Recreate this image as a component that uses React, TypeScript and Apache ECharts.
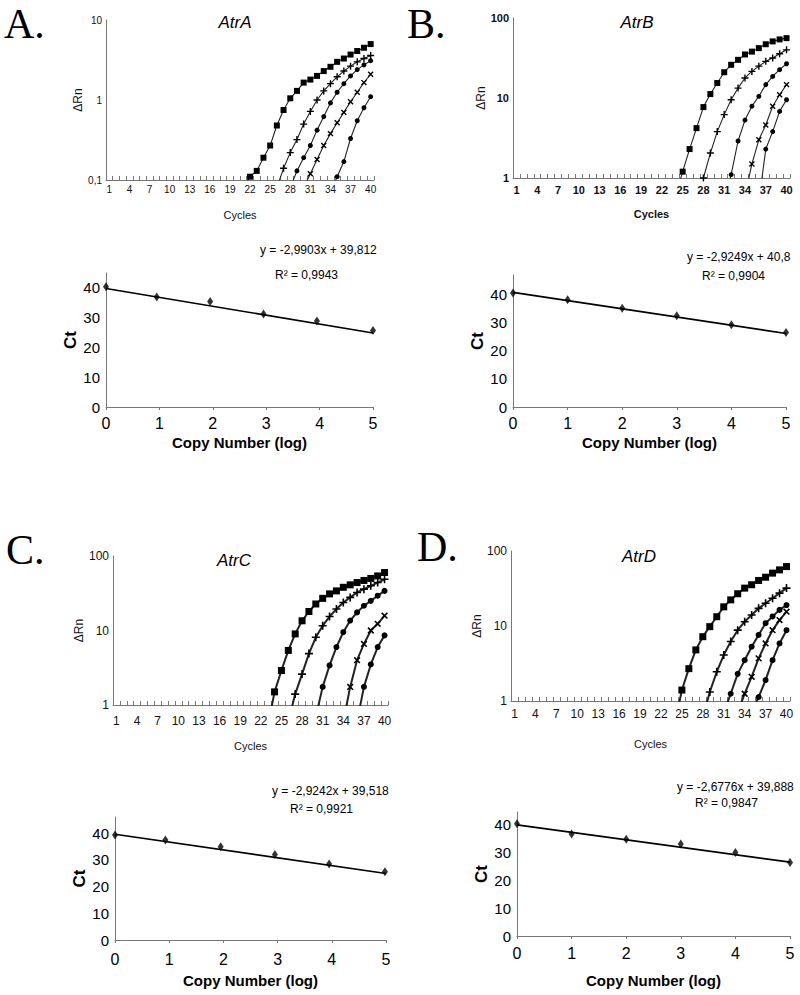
import React, { useEffect, useRef } from 'react';
import * as echarts from 'echarts';

const FONT = "'Liberation Sans', Arial, sans-serif";
const SERIF = "'Liberation Serif', 'Times New Roman', serif";

const CYCLES = ['1','2','3','4','5','6','7','8','9','10','11','12','13','14','15','16','17','18','19','20',
  '21','22','23','24','25','26','27','28','29','30','31','32','33','34','35','36','37','38','39','40'];

// ---- Amplification plots: [first cycle, ΔRn values from that cycle to 40] ----
const atrA_sq = [0.08, 0.11, 0.13, 0.19, 0.27, 0.48, 0.75, 1.05, 1.3, 1.65, 1.8, 2.0, 2.3, 2.6, 3.0, 3.3, 3.7, 4.1, 4.5, 5.0];
const atrA_p1 = [0.08, 0.14, 0.22, 0.32, 0.5, 0.72, 1.0, 1.3, 1.6, 1.95, 2.3, 2.65, 3.0, 3.3, 3.6];
const atrA_c1 = [0.08, 0.13, 0.19, 0.27, 0.42, 0.62, 0.92, 1.25, 1.6, 2.0, 2.4, 2.75, 3.1];
const atrA_x1 = [0.08, 0.12, 0.18, 0.27, 0.38, 0.52, 0.7, 0.95, 1.25, 1.65, 2.1];
const atrA_c2 = [0.07, 0.11, 0.17, 0.33, 0.55, 0.8, 1.1];
const atrA_starts = [21, 26, 28, 30, 34];

const atrB_sq = [0.6, 1.2, 2.3, 4.2, 7.7, 11.2, 15.4, 21, 26, 30, 35, 38, 42, 47, 51, 54, 56];
const atrB_p1 = [1.0, 2.05, 3.8, 6.2, 9.5, 13.3, 17.8, 21.5, 25, 28.7, 31.6, 35.8, 40];
const atrB_c1 = [0.5, 1.1, 2.9, 5.3, 7.9, 10.5, 14.7, 18.6, 22.6, 26.8];
const atrB_x1 = [0.6, 1.5, 3.0, 4.6, 7.9, 11, 14.7];
const atrB_c2 = [0.5, 2.3, 3.8, 6.8, 9.5];
const atrB_starts = [24, 28, 31, 34, 36];

const atrC_sq = [0.5, 1.5, 2.9, 5.4, 9, 13.5, 18, 22.7, 27, 31, 34, 38, 41, 44, 47, 50, 54, 60];
const atrC_p1 = [0.6, 1.4, 2.6, 4.9, 8.1, 11.6, 15.4, 19.4, 23.8, 27.8, 32.4, 35.9, 39.8, 44, 48.7];
const atrC_c1 = [0.7, 1.75, 3.4, 6, 9.5, 13.6, 17.5, 21.5, 25, 29.3, 34];
const atrC_x1 = [0.6, 1.75, 4, 6.6, 10, 12.3, 15.8];
const atrC_c2 = [0.6, 1.75, 3.5, 6, 8.6];
const atrC_starts = [23, 26, 30, 34, 36];

const atrD_sq = [0.5, 1.4, 2.7, 4.8, 7.2, 9.8, 13.3, 18, 22.3, 26.9, 32, 35.5, 40.5, 44.7, 50.7, 56, 62];
const atrD_p1 = [0.6, 1.32, 2.45, 4.1, 6.2, 8.8, 11.4, 14, 17.2, 20.1, 23.4, 27.4, 32];
const atrD_c1 = [0.7, 1.25, 2.3, 3.5, 5.3, 7.6, 10.9, 13.4, 16.4, 19];
const atrD_x1 = [0.7, 1.25, 2.1, 3.7, 5.85, 8.8, 12, 15.5];
const atrD_c2 = [0.7, 1.13, 1.9, 3.5, 5.85, 8.8];
const atrD_starts = [24, 28, 31, 33, 35];

// ---- Standard curves: log copy number vs Ct ----
const ctA_x = [0, 0.95, 1.95, 2.95, 3.95, 5];
const ctA_y = [40.4, 36.9, 35.4, 31.2, 28.9, 25.7];
const ctB_x = [0, 1, 2, 3, 4, 5];
const ctB_y = [40.6, 38.2, 35.2, 32.5, 29.3, 26.5];
const ctC_x = [0, 0.93, 1.95, 2.95, 3.95, 4.98];
const ctC_y = [39.3, 37.4, 34.9, 32.0, 28.4, 25.5];
const ctD_x = [0, 1, 2, 3, 4, 5];
const ctD_y = [40.3, 36.6, 34.7, 33.0, 30.0, 26.4];

// trend lines (slope, intercept) as printed
const fitSlope = [-2.9903, -2.9249, -2.9242, -2.6776];
const fitIntercept = [39.812, 40.8, 39.518, 39.888];
const eqTexts = ['y = -2,9903x + 39,812', 'y = -2,9249x + 40,8', 'y = -2,9242x + 39,518', 'y = -2,6776x + 39,888'];
const r2Texts = ['R\u00B2 = 0,9943', 'R\u00B2 = 0,9904', 'R\u00B2 = 0,9921', 'R\u00B2 = 0,9847'];
const genes = ['AtrA', 'AtrB', 'AtrC', 'AtrD'];
const letters = ['A.', 'B.', 'C.', 'D.'];

const PLUS = 'path://M4,0H6V10H4ZM0,4H10V6H0Z';

function toCycleSeries(start: number, vals: number[]) {
  const out: (number | null)[] = CYCLES.map(() => null);
  vals.forEach((v, i) => { out[start - 1 + i] = v; });
  return out;
}

export default function App() {
  const ref = useRef<HTMLDivElement>(null);
  useEffect(() => {
    if (!ref.current) return;
    const chart = echarts.init(ref.current, undefined, { renderer: 'svg' });

    const ampSets = [
      { vals: [atrA_sq, atrA_p1, atrA_c1, atrA_x1, atrA_c2], starts: atrA_starts, min: 0.1, max: 10 },
      { vals: [atrB_sq, atrB_p1, atrB_c1, atrB_x1, atrB_c2], starts: atrB_starts, min: 1, max: 100 },
      { vals: [atrC_sq, atrC_p1, atrC_c1, atrC_x1, atrC_c2], starts: atrC_starts, min: 1, max: 100 },
      { vals: [atrD_sq, atrD_p1, atrD_c1, atrD_x1, atrD_c2], starts: atrD_starts, min: 1, max: 100 },
    ];
    const ampLayout = [
      { left: 106, top: 20, width: 268, height: 160, lblSize: 10, lblMargin: 4, nameGap: 29, ynameGap: 12, lw: 1.1, sym: 5, bold: false },
      { left: 513, top: 18, width: 277, height: 160, lblSize: 11, lblMargin: 6, nameGap: 30, ynameGap: 16, lw: 1.1, sym: 5, bold: true },
      { left: 113, top: 556, width: 275, height: 149, lblSize: 12, lblMargin: 10, nameGap: 35, ynameGap: 24, lw: 2, sym: 6, bold: false },
      { left: 511, top: 551, width: 279, height: 150, lblSize: 12, lblMargin: 7, nameGap: 37, ynameGap: 16, lw: 2, sym: 6, bold: false },
    ];
    const ctLayout = [
      { left: 106, top: 273, width: 267, height: 134, max: 45, xMargin: 8, nameGap: 28 },
      { left: 513, top: 275, width: 273, height: 132, max: 47, xMargin: 8, nameGap: 28 },
      { left: 115, top: 817, width: 271, height: 123, max: 46, xMargin: 11, nameGap: 33 },
      { left: 517, top: 812, width: 273, height: 124, max: 44.5, xMargin: 9, nameGap: 37 },
    ];
    const ctData = [[ctA_x, ctA_y], [ctB_x, ctB_y], [ctC_x, ctC_y], [ctD_x, ctD_y]];

    const grid: any[] = [];
    const xAxis: any[] = [];
    const yAxis: any[] = [];
    const series: any[] = [];
    const markers = [
      { symbol: 'rect', rotate: 0 },
      { symbol: PLUS, rotate: 0 },
      { symbol: 'circle', rotate: 0 },
      { symbol: PLUS, rotate: 45 },
      { symbol: 'circle', rotate: 0 },
    ];

    ampSets.forEach((set, i) => {
      const L = ampLayout[i];
      grid.push({ left: L.left, top: L.top, width: L.width, height: L.height, containLabel: false });
      xAxis.push({
        type: 'category', gridIndex: i, data: CYCLES, boundaryGap: true,
        name: 'Cycles', nameLocation: 'middle', nameGap: L.nameGap,
        nameTextStyle: { fontFamily: FONT, fontSize: 11, color: '#111', fontWeight: L.bold ? 'bold' : 'normal' },
        axisLine: { lineStyle: { color: '#777', width: 1 } },
        axisTick: { show: true, inside: true, length: 4, interval: 0, lineStyle: { color: '#777' } },
        axisLabel: { interval: 2, fontFamily: FONT, fontSize: L.lblSize, color: '#111', margin: L.lblMargin, fontWeight: L.bold ? 'bold' : 'normal' },
        splitLine: { show: false },
      });
      yAxis.push({
        type: 'log', logBase: 10, gridIndex: i, min: set.min, max: set.max,
        name: '\u0394Rn', nameLocation: 'middle', nameGap: L.ynameGap, nameRotate: 90,
        nameTextStyle: { fontFamily: FONT, fontSize: 12, color: '#111' },
        axisLine: { show: true, lineStyle: { color: '#777', width: 1 } },
        axisTick: { show: false },
        axisLabel: {
          fontFamily: FONT, fontSize: L.lblSize, color: '#111', margin: 4,
          fontWeight: L.bold ? 'bold' : 'normal',
          formatter: (v: number) => String(v).replace('.', ','),
        },
        splitLine: { show: false },
      });
      set.vals.forEach((vals, k) => {
        const isPlus = markers[k].symbol === PLUS;
        series.push({
          type: 'line', xAxisIndex: i, yAxisIndex: i,
          data: toCycleSeries(set.starts[k], vals),
          symbol: markers[k].symbol, symbolRotate: markers[k].rotate,
          symbolSize: isPlus ? L.sym + 2 : (k === 0 ? L.sym + 1 : L.sym),
          showSymbol: true, showAllSymbol: true, clip: true, connectNulls: false,
          lineStyle: { color: '#222', width: L.lw },
          itemStyle: { color: '#000' },
        });
      });
    });

    ctData.forEach(([xs, ys], j) => {
      const i = 4 + j;
      const L = ctLayout[j];
      grid.push({ left: L.left, top: L.top, width: L.width, height: L.height, containLabel: false });
      xAxis.push({
        type: 'value', gridIndex: i, min: 0, max: 5, interval: 1,
        name: 'Copy Number (log)', nameLocation: 'middle', nameGap: L.nameGap,
        nameTextStyle: { fontFamily: FONT, fontSize: 15, fontWeight: 'bold', color: '#000' },
        axisLine: { onZero: false, lineStyle: { color: '#777' } },
        axisTick: { show: true, length: 3, lineStyle: { color: '#777' } },
        axisLabel: { fontFamily: FONT, fontSize: 16, color: '#000', margin: L.xMargin },
        splitLine: { show: false },
      });
      yAxis.push({
        type: 'value', gridIndex: i, min: 0, max: L.max, interval: 10,
        name: 'Ct', nameLocation: 'middle', nameGap: 26, nameRotate: 90,
        nameTextStyle: { fontFamily: FONT, fontSize: 17, fontWeight: 'bold', color: '#000' },
        axisLine: { show: true, onZero: false, lineStyle: { color: '#777' } },
        axisTick: { show: false },
        axisLabel: { fontFamily: FONT, fontSize: 15, color: '#000', margin: 6, showMaxLabel: false,
          formatter: (v: number) => (v % 10 === 0 ? String(v) : '') },
        splitLine: { show: false },
      });
      const m = fitSlope[j];
      const b = fitIntercept[j];
      series.push({
        type: 'line', xAxisIndex: i, yAxisIndex: i,
        data: [[0, b], [5, b + 5 * m]],
        symbol: 'none', lineStyle: { color: '#000', width: 1.6 }, z: 2,
      });
      series.push({
        type: 'scatter', xAxisIndex: i, yAxisIndex: i,
        data: xs.map((x, k) => [x, ys[k]]),
        symbol: 'diamond', symbolSize: [6, 9], itemStyle: { color: '#000' }, z: 3,
      });
    });

    const letterPos = [[4, 24], [407, 24], [6, 550], [417, 547]];
    const titlePos = [[235, 22], [637, 22], [234, 560], [639, 556]];
    const eqPos = [[260, 250], [687, 257], [272, 791], [677, 787]];
    const r2Pos = [[275, 275], [702, 276], [290, 809], [695, 803]];

    const graphic: any[] = [];
    letters.forEach((t, k) => {
      graphic.push({ type: 'text', x: letterPos[k][0], y: letterPos[k][1],
        style: { text: t, font: `42px ${SERIF}`, fill: '#000', textVerticalAlign: 'middle' } });
    });
    genes.forEach((t, k) => {
      graphic.push({ type: 'text', x: titlePos[k][0], y: titlePos[k][1],
        style: { text: t, font: `italic 17px ${FONT}`, fill: '#000', textAlign: 'center', textVerticalAlign: 'middle' } });
    });
    eqTexts.forEach((t, k) => {
      graphic.push({ type: 'text', x: eqPos[k][0], y: eqPos[k][1],
        style: { text: t, font: `12px ${FONT}`, fill: '#000', textVerticalAlign: 'middle' } });
      graphic.push({ type: 'text', x: r2Pos[k][0], y: r2Pos[k][1],
        style: { text: r2Texts[k], font: `12px ${FONT}`, fill: '#000', textVerticalAlign: 'middle' } });
    });

    chart.setOption({
      animation: false,
      backgroundColor: '#fff',
      grid, xAxis, yAxis, series, graphic,
    });
    return () => chart.dispose();
  }, []);

  return <div ref={ref} style={{ position: 'absolute', left: 0, top: 0, width: 800, height: 995, background: '#fff' }} />;
}
